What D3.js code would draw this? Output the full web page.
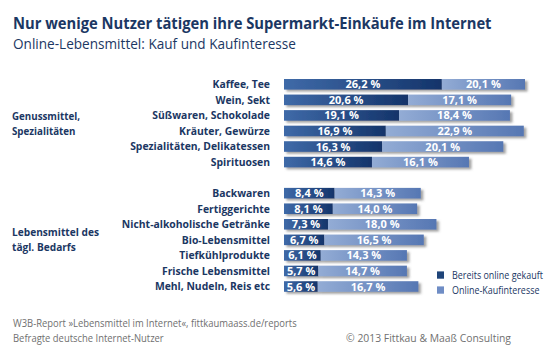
<!DOCTYPE html>
<html><head><meta charset="utf-8">
<script src="https://cdn.jsdelivr.net/npm/d3@7"></script>
<style>body{margin:0;background:#fff}svg{display:block}</style>
</head><body>
<script>
const title = "Nur wenige Nutzer tätigen ihre Supermarkt-Einkäufe im Internet";
const subtitle = "Online-Lebensmittel: Kauf und Kaufinteresse";
const groups = [["Genussmittel,", "Spezialitäten"], ["Lebensmittel des", "tägl. Bedarfs"]];
const groupIndex = [0,0,0,0,0,0,1,1,1,1,1,1,1];
const categories = ["Kaffee, Tee","Wein, Sekt","Süßwaren, Schokolade","Kräuter, Gewürze","Spezialitäten, Delikatessen","Spirituosen",
  "Backwaren","Fertiggerichte","Nicht-alkoholische Getränke","Bio-Lebensmittel","Tiefkühlprodukte","Frische Lebensmittel","Mehl, Nudeln, Reis etc"];
const bought = [26.2,20.6,19.1,16.9,16.3,14.6,8.4,8.1,7.3,6.7,6.1,5.7,5.6];
const interest = [20.1,17.1,18.4,22.9,20.1,16.1,14.3,14.0,18.0,16.5,14.3,14.7,16.7];
const seriesNames = ["Bereits online gekauft","Online-Kaufinteresse"];
const footer1 = "W3B-Report »Lebensmittel im Internet«, fittkaumaass.de/reports";
const footer2 = "Befragte deutsche Internet-Nutzer";
const copyright = "© 2013 Fittkau & Maaß Consulting";

const W = 560, H = 350;
const navy = "#1b3763";
const svg = d3.select("body").append("svg").attr("width", W).attr("height", H);
const defs = svg.append("defs");
const g1 = defs.append("linearGradient").attr("id","gDark");
g1.append("stop").attr("offset","0%").attr("stop-color","#3f6aa8");
g1.append("stop").attr("offset","100%").attr("stop-color","#14346a");
const g2 = defs.append("linearGradient").attr("id","gLight");
g2.append("stop").attr("offset","0%").attr("stop-color","#93acd5");
g2.append("stop").attr("offset","100%").attr("stop-color","#5677b3");
const f = defs.append("filter").attr("id","sh").attr("x","-5%").attr("y","-30%").attr("width","115%").attr("height","190%");
f.append("feDropShadow").attr("dx",2.5).attr("dy",2).attr("stdDeviation",1).attr("flood-color","#555").attr("flood-opacity",0.55);

// horizontally squeeze texts (condensed look) around their anchor
function condense(sel, targetWidth, measureNode) {
  const m = (measureNode || sel.node()).getComputedTextLength();
  const k = Math.min(1, targetWidth / m);
  sel.each(function(){
    const s = d3.select(this);
    const tx = +s.attr("x") || 0, ty = +s.attr("y") || 0;
    s.attr("x",0).attr("y",0).attr("transform",`translate(${tx},${ty}) scale(${k},1)`);
  });
}

// Title
const t = svg.append("text").attr("x",13).attr("y",29).attr("fill",navy)
  .style("font-family","Open Sans").style("font-weight","bold").style("font-size","16px").text(title);
condense(t, 479);
const st = svg.append("text").attr("x",13).attr("y",49).attr("fill",navy)
  .style("font-family","Open Sans").style("font-size","14.5px").text(subtitle);
condense(st, 283);

// Scales
const rows = categories.map((c,i)=>({cat:c, slot:i+groupIndex[i], a:bought[i], b:interest[i]}));
const slots = d3.range(categories.length + groups.length - 1);
const y = d3.scalePoint().domain(slots).range([84.3, 286.5]);
const bh = y.step()*0.68;
const x = d3.scaleLinear().domain([0,40]).range([284,525]).clamp(true);

// category labels
const labs = svg.append("g").selectAll("text").data(rows).join("text")
  .attr("x",270).attr("y",d=>y(d.slot)).attr("dy","0.36em").attr("text-anchor","end")
  .attr("fill",navy).style("font-family","Open Sans").style("font-weight","bold").style("font-size","11px")
  .text(d=>d.cat);
condense(labs, 140, labs.nodes()[4]);

// group labels
groups.forEach((gl,gi)=>{
  const idx = rows.filter((r,i)=>groupIndex[i]===gi);
  const mid = (y(idx[0].slot)+y(idx[idx.length-1].slot))/2;
  const tx = svg.append("g").selectAll("text").data(gl).join("text")
    .attr("x",12).attr("y",(d,j)=>mid-7.5+j*15).attr("dy","0.36em").attr("fill",navy)
    .style("font-family","Open Sans").style("font-weight","bold").style("font-size","11px").text(d=>d);
  condense(tx, gi===0?68:87, tx.nodes()[0]);
});

// bars
const rg = svg.append("g").selectAll("g").data(rows).join("g");
const barG = rg.append("g").attr("filter","url(#sh)");
barG.append("rect").attr("x",x(0)).attr("y",d=>y(d.slot)-bh/2).attr("width",d=>x(d.a)-x(0)).attr("height",bh).attr("fill","url(#gDark)");
barG.append("rect").attr("x",d=>x(d.a)).attr("y",d=>y(d.slot)-bh/2).attr("width",d=>x(d.a+d.b)-x(d.a)).attr("height",bh).attr("fill","url(#gLight)");
const fmt = v => d3.format(".1f")(v).replace(".",",") + " %";
rg.append("text").attr("x",d=>(x(0)+x(d.a))/2).attr("y",d=>y(d.slot)).attr("dy","0.37em").attr("text-anchor","middle")
  .attr("fill","#fff").style("font-family","Open Sans").style("font-weight","bold").style("font-size","11px").text(d=>fmt(d.a));
rg.append("text").attr("x",d=>(x(d.a)+x(d.a+d.b))/2).attr("y",d=>y(d.slot)).attr("dy","0.37em").attr("text-anchor","middle")
  .attr("fill","#fff").style("font-family","Open Sans").style("font-weight","bold").style("font-size","11px").text(d=>fmt(d.b));
const allv = rg.selectAll("text");
condense(allv, 36, allv.nodes()[0]);

// legend
const lg = svg.append("g").selectAll("g").data(seriesNames).join("g").attr("transform",(d,i)=>`translate(437,${275+i*15})`);
lg.append("rect").attr("x",0).attr("y",-3.6).attr("width",7).attr("height",7.3).attr("fill",(d,i)=>i?"#6f8dc5":"#1f4479");
const lt = lg.append("text").attr("x",15).attr("y",0).attr("dy","0.36em").attr("fill",navy)
  .style("font-family","Open Sans").style("font-size","10.8px").text(d=>d);
condense(lt, 91, lt.nodes()[0]);

// footer
const grey = "#707070";
const ft = svg.append("g").selectAll("text").data([footer1, footer2]).join("text")
  .attr("x",13).attr("y",(d,i)=>327+i*15).attr("fill",grey).style("font-family","Open Sans").style("font-size","11px").text(d=>d);
condense(ft, 284, ft.nodes()[0]);
const cp = svg.append("text").attr("x",511).attr("y",342).attr("text-anchor","end").attr("fill",grey)
  .style("font-family","Open Sans").style("font-size","11px").text(copyright);
condense(cp, 165);
</script>
</body></html>
